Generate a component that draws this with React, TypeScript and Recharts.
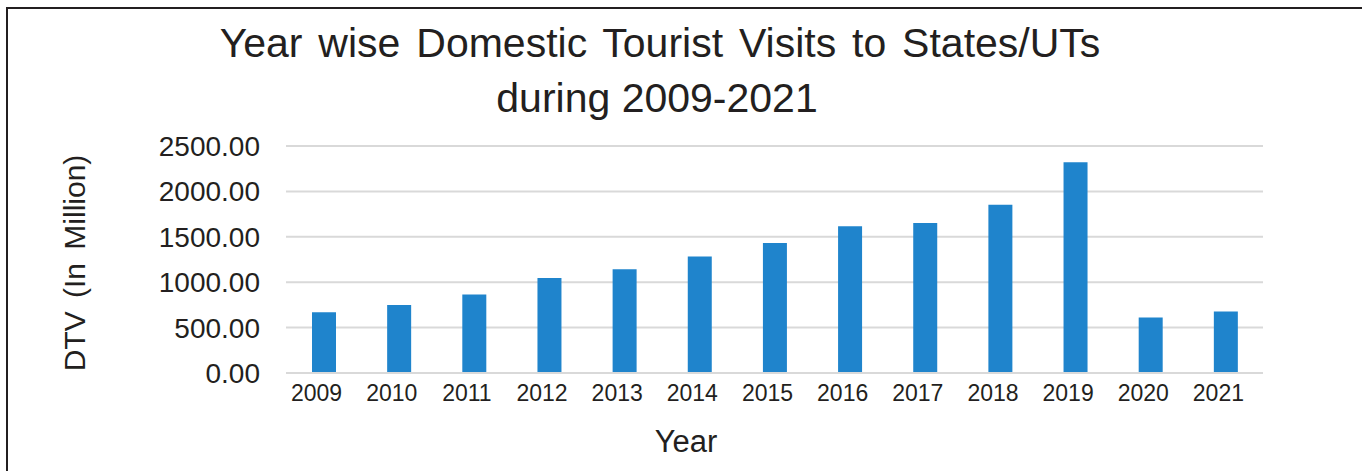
import React from "react";
import { BarChart, Bar, XAxis, YAxis, CartesianGrid } from "recharts";

const years = ["2009", "2010", "2011", "2012", "2013", "2014", "2015", "2016", "2017", "2018", "2019", "2020", "2021"];
const dtv = [668.8, 747.7, 864.53, 1045.05, 1142.53, 1282.8, 1431.97, 1615.39, 1652.49, 1853.79, 2321.98, 610.22, 677.63];
const yTicks = [0, 500, 1000, 1500, 2000, 2500];
const titleLines = ["Year wise Domestic Tourist Visits to States/UTs", "during 2009-2021"];
const yLabel = "DTV (In Million)";
const xLabel = "Year";

const data = years.map((y, i) => ({ year: y, dtv: dtv[i] }));

const FONT = "'Liberation Sans', Arial, Helvetica, sans-serif";
const INK = "#231f20";

export default function App() {
  return (
    <div style={{ position: "absolute", left: 0, top: 0, width: 1362, height: 471, background: "#fff", fontFamily: FONT }}>
      <BarChart
        width={1362}
        height={471}
        data={data}
        margin={{ top: 146, right: 99, bottom: 0, left: 0 }}
        barCategoryGap="34%"
      >
        <CartesianGrid vertical={false} stroke="#d9d9d9" strokeWidth={2} />
        <XAxis
          dataKey="year"
          height={98}
          interval={0}
          tickLine={false}
          axisLine={{ stroke: "#d9d9d9", strokeWidth: 2 }}
          tickSize={0}
          tickMargin={12}
          tick={{ fontSize: 23, fill: INK, fontFamily: FONT, dx: -7 }}
        />
        <YAxis
          width={286}
          domain={[0, 2500]}
          ticks={yTicks}
          interval={0}
          axisLine={false}
          tickLine={false}
          tickSize={0}
          tickMargin={26}
          tickFormatter={(v: number) => v.toFixed(2)}
          tick={{ fontSize: 28, fill: INK, fontFamily: FONT }}
        />
        <Bar dataKey="dtv" fill="#1f84cc" barSize={24} isAnimationActive={false} />
      </BarChart>
      <svg width={1362} height={471} style={{ position: "absolute", left: 0, top: 0, pointerEvents: "none" }}>
        <line x1={7} y1={8} x2={7} y2={471} stroke={INK} strokeWidth={2} />
        <line x1={6} y1={8} x2={1362} y2={8} stroke={INK} strokeWidth={2} />
        <text x={660} y={57} textAnchor="middle" fontSize={41} fill={INK} fontFamily={FONT} wordSpacing={4.5}>{titleLines[0]}</text>
        <text x={657} y={112} textAnchor="middle" fontSize={41} fill={INK} fontFamily={FONT}>{titleLines[1]}</text>
        <text x={85} y={263} textAnchor="middle" fontSize={30} fill={INK} fontFamily={FONT} wordSpacing={5} transform="rotate(-90 85 263)">{yLabel}</text>
        <text x={686} y={452} textAnchor="middle" fontSize={31} fill={INK} fontFamily={FONT}>{xLabel}</text>
      </svg>
    </div>
  );
}
